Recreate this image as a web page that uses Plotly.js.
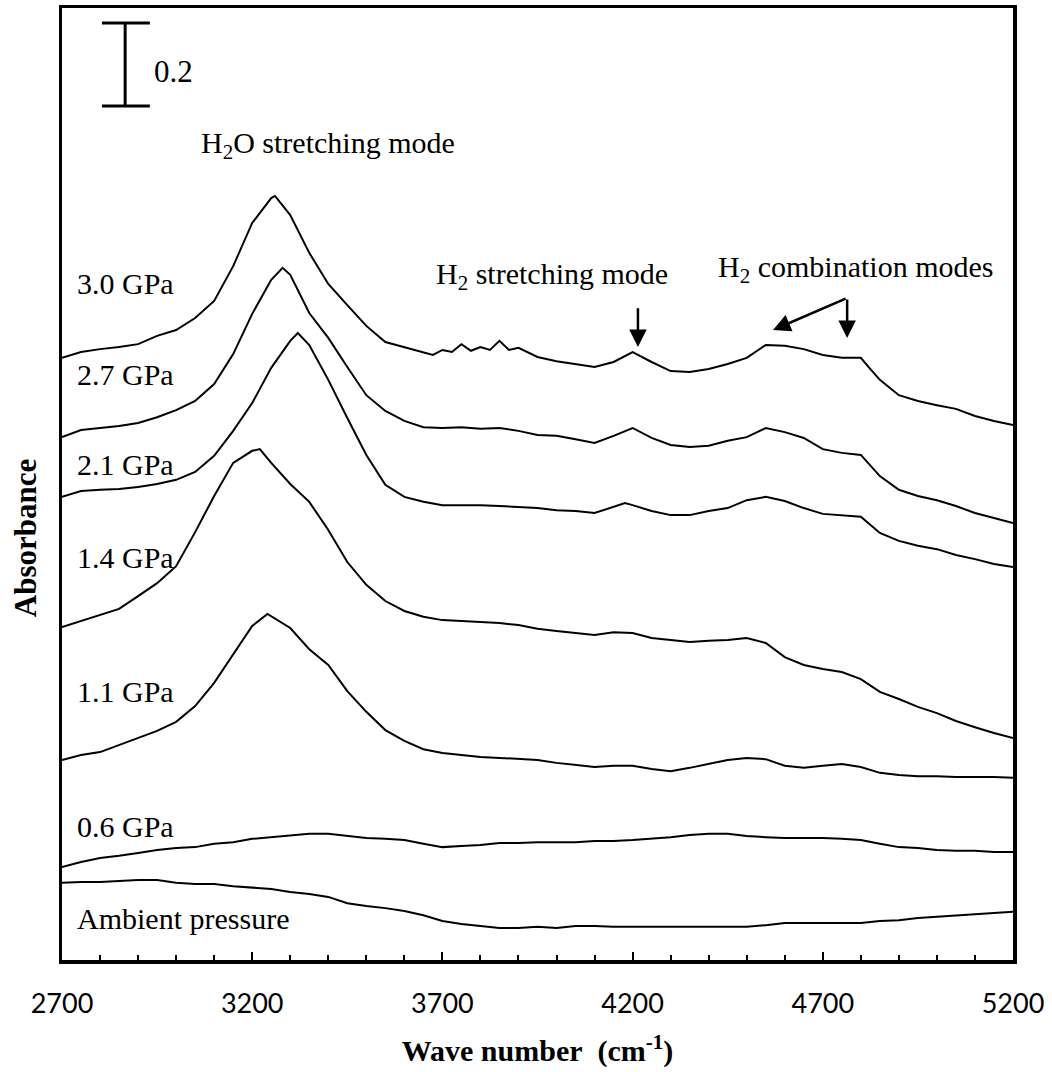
<!DOCTYPE html>
<html>
<head>
<meta charset="utf-8">
<script src="https://cdn.plot.ly/plotly-3.0.1.min.js"></script>
<style>html,body{margin:0;padding:0;background:#fff;}#chart{width:1052px;height:1072px;}</style>
</head>
<body>
<div id="chart"></div>
<script>
// Wave number grids (cm^-1)
const grid50 = [2700,2750,2800,2850,2900,2950,3000,3050,3100,3150,3200,3250,3300,3350,3400,3450,3500,3550,3600,3650,3700,3750,3800,3850,3900,3950,4000,4050,4100,4150,4200,4250,4300,4350,4400,4450,4500,4550,4600,4650,4700,4750,4800,4850,4900,4950,5000,5050,5100,5150,5200];

const x30 = [2700,2750,2800,2850,2900,2950,3000,3050,3100,3150,3200,3250,3260,3300,3350,3400,3450,3500,3550,3600,3650,3675,3700,3725,3750,3775,3800,3825,3850,3875,3900,3925,3950,4000,4050,4100,4150,4200,4250,4300,4350,4400,4450,4500,4550,4600,4650,4700,4750,4800,4820,4850,4900,4950,5000,5050,5100,5150,5200];
const y30 = [1.463,1.477,1.484,1.489,1.496,1.516,1.530,1.559,1.600,1.684,1.788,1.848,1.853,1.807,1.716,1.641,1.590,1.540,1.501,1.489,1.477,1.470,1.482,1.477,1.496,1.480,1.489,1.482,1.504,1.482,1.487,1.475,1.465,1.455,1.448,1.441,1.453,1.477,1.453,1.431,1.429,1.436,1.448,1.463,1.494,1.492,1.484,1.470,1.463,1.463,1.441,1.410,1.373,1.359,1.349,1.340,1.323,1.311,1.301];

const x27 = [2700,2750,2800,2850,2900,2950,3000,3050,3100,3150,3200,3250,3280,3300,3350,3400,3450,3500,3550,3600,3650,3700,3750,3800,3850,3900,3950,4000,4050,4100,4150,4200,4250,4300,4350,4400,4450,4500,4550,4600,4650,4700,4750,4800,4850,4900,4950,5000,5050,5100,5150,5200];
const y27 = [1.272,1.289,1.294,1.299,1.306,1.320,1.337,1.359,1.400,1.472,1.569,1.651,1.680,1.663,1.571,1.511,1.441,1.373,1.335,1.311,1.296,1.294,1.296,1.292,1.294,1.287,1.277,1.275,1.267,1.258,1.275,1.294,1.270,1.253,1.248,1.251,1.263,1.272,1.294,1.284,1.270,1.243,1.234,1.229,1.178,1.145,1.130,1.120,1.106,1.089,1.077,1.065];

const x21 = [2700,2750,2800,2850,2900,2950,3000,3050,3100,3150,3200,3250,3300,3320,3350,3400,3450,3500,3550,3600,3650,3700,3750,3800,3850,3900,3950,4000,4050,4100,4150,4180,4200,4250,4300,4350,4400,4450,4500,4550,4600,4650,4700,4750,4800,4850,4900,4950,5000,5050,5100,5150,5200];
const y21 = [1.128,1.142,1.145,1.147,1.152,1.159,1.169,1.188,1.227,1.287,1.354,1.439,1.504,1.523,1.494,1.410,1.318,1.229,1.157,1.128,1.116,1.108,1.108,1.108,1.106,1.104,1.101,1.096,1.094,1.089,1.104,1.113,1.108,1.094,1.084,1.084,1.094,1.101,1.120,1.128,1.118,1.101,1.087,1.084,1.080,1.041,1.022,1.010,1.002,0.988,0.978,0.966,0.959];

const x14 = [2700,2750,2800,2850,2900,2950,3000,3050,3100,3150,3200,3220,3250,3300,3350,3400,3450,3500,3550,3600,3650,3700,3750,3800,3850,3900,3950,4000,4050,4100,4150,4200,4250,4300,4350,4400,4450,4500,4550,4600,4650,4700,4750,4800,4850,4900,4950,5000,5050,5100,5150,5200];
const y14 = [0.814,0.829,0.843,0.858,0.889,0.920,0.961,1.043,1.130,1.210,1.239,1.243,1.210,1.159,1.116,1.048,0.971,0.916,0.877,0.853,0.839,0.831,0.829,0.827,0.824,0.819,0.810,0.805,0.800,0.795,0.802,0.800,0.788,0.783,0.778,0.781,0.783,0.788,0.776,0.742,0.723,0.713,0.706,0.689,0.658,0.641,0.622,0.607,0.588,0.573,0.559,0.547];

const x11 = [2700,2750,2800,2850,2900,2950,3000,3050,3100,3150,3200,3240,3300,3350,3400,3450,3500,3550,3600,3650,3700,3750,3800,3850,3900,3950,4000,4050,4100,4150,4200,4250,4300,4350,4400,4450,4500,4550,4600,4650,4700,4750,4800,4850,4900,4950,5000,5050,5100,5150,5200];
const y11 = [0.494,0.506,0.513,0.530,0.547,0.564,0.586,0.624,0.680,0.749,0.817,0.846,0.812,0.761,0.723,0.660,0.610,0.566,0.540,0.520,0.511,0.506,0.501,0.499,0.496,0.494,0.487,0.482,0.477,0.480,0.480,0.472,0.467,0.475,0.484,0.494,0.499,0.496,0.480,0.475,0.480,0.484,0.477,0.463,0.458,0.455,0.455,0.453,0.453,0.453,0.451];

const y06 = [0.236,0.248,0.258,0.263,0.270,0.277,0.282,0.284,0.292,0.296,0.304,0.308,0.313,0.316,0.316,0.311,0.306,0.304,0.301,0.292,0.284,0.287,0.289,0.294,0.294,0.296,0.296,0.296,0.299,0.299,0.301,0.304,0.308,0.313,0.316,0.316,0.311,0.308,0.306,0.306,0.306,0.304,0.301,0.292,0.284,0.282,0.277,0.275,0.275,0.272,0.272];

const yAmb = [0.198,0.200,0.200,0.202,0.205,0.205,0.198,0.195,0.195,0.190,0.186,0.183,0.176,0.171,0.164,0.149,0.142,0.137,0.130,0.120,0.106,0.099,0.094,0.089,0.089,0.092,0.089,0.094,0.094,0.092,0.092,0.092,0.092,0.092,0.092,0.092,0.092,0.096,0.101,0.101,0.101,0.101,0.101,0.106,0.108,0.113,0.116,0.120,0.123,0.125,0.128];

// Series labels and their label anchor positions (wave number, absorbance)
const seriesNames = ['3.0 GPa','2.7 GPa','2.1 GPa','1.4 GPa','1.1 GPa','0.6 GPa','Ambient pressure'];
const labelY = [1.641,1.422,1.207,0.983,0.660,0.333,0.113];
const labelX = 2733;

// Scale bar value
const scaleBar = 0.2;

const seriesX = [x30,x27,x21,x14,x11,grid50,grid50];
const seriesY = [y30,y27,y21,y14,y11,y06,yAmb];

const serif = 'Liberation Serif, Times New Roman, serif';

const traces = seriesNames.map((n,i)=>({
  type:'scatter', mode:'lines', name:n,
  x: seriesX[i], y: seriesY[i],
  line:{color:'#000', width:2}, hoverinfo:'x+y+name'
}));

const annotations = seriesNames.map((n,i)=>({
  x: labelX, y: labelY[i], xref:'x', yref:'y', text:n, showarrow:false,
  xanchor:'left', yanchor:'middle', font:{family:serif, size:30, color:'#000'}
}));

annotations.push(
  {x:3399, y:1.976, xref:'x', yref:'y', text:'H<sub>2</sub>O stretching mode', showarrow:false, xanchor:'center', yanchor:'middle', font:{family:serif,size:30,color:'#000'}},
  {x:3988, y:1.660, xref:'x', yref:'y', text:'H<sub>2</sub> stretching mode', showarrow:false, xanchor:'center', yanchor:'middle', font:{family:serif,size:30,color:'#000'}},
  {x:4785, y:1.678, xref:'x', yref:'y', text:'H<sub>2</sub> combination modes', showarrow:false, xanchor:'center', yanchor:'middle', font:{family:serif,size:30,color:'#000'}},
  // arrows
  {x:4214, y:1.489, xref:'x', yref:'y', ax:4214, ay:1.586, axref:'x', ayref:'y', text:'', showarrow:true, arrowhead:2, arrowsize:1.4, arrowwidth:2.5, arrowcolor:'#000'},
  {x:4569, y:1.530, xref:'x', yref:'y', ax:4764, ay:1.607, axref:'x', ayref:'y', text:'', showarrow:true, arrowhead:2, arrowsize:1.4, arrowwidth:2.5, arrowcolor:'#000'},
  {x:4764, y:1.511, xref:'x', yref:'y', ax:4764, ay:1.607, axref:'x', ayref:'y', text:'', showarrow:true, arrowhead:2, arrowsize:1.4, arrowwidth:2.5, arrowcolor:'#000'},
  // scale bar label
  {x:2937, y:2.152, xref:'x', yref:'y', text:'0.2', showarrow:false, xanchor:'left', yanchor:'middle', font:{family:serif,size:31,color:'#000'}},
  // y-axis title
  {x:-0.039, y:0.443, xref:'paper', yref:'paper', text:'<b>Absorbance</b>', textangle:-90, showarrow:false, xanchor:'center', yanchor:'middle', font:{family:serif,size:31,color:'#000'}}
);

const sbTop = 2.270, sbX = 2866, sbCapL = 2805, sbCapR = 2931;
const shapes = [
  {type:'line', xref:'x', yref:'y', x0:sbX, x1:sbX, y0:sbTop, y1:sbTop-scaleBar, line:{color:'#000', width:3}},
  {type:'line', xref:'x', yref:'y', x0:sbCapL, x1:sbCapR, y0:sbTop, y1:sbTop, line:{color:'#000', width:3}},
  {type:'line', xref:'x', yref:'y', x0:sbCapL, x1:sbCapR, y0:sbTop-scaleBar, y1:sbTop-scaleBar, line:{color:'#000', width:3}}
];

const layout = {
  width:1052, height:1072,
  margin:{l:62, r:39, t:8, b:112},
  paper_bgcolor:'#fff', plot_bgcolor:'#fff',
  showlegend:false,
  xaxis:{
    range:[2700,5200], tick0:2700, dtick:500,
    ticks:'inside', ticklen:8, tickwidth:2, tickcolor:'#000',
    minor:{dtick:100, ticks:'inside', ticklen:5, tickwidth:2, tickcolor:'#000', showgrid:false},
    showline:true, linewidth:3.5, linecolor:'#000', mirror:true,
    showgrid:false, zeroline:false,
    tickfont:{family:'Lato, Open Sans, sans-serif', size:27, color:'#000'},
    ticklabelstandoff:17,
    title:{text:'<b>Wave number&nbsp; (cm<sup>-1</sup>)</b>', font:{family:serif, size:30, color:'#000'}, standoff:23},
    automargin:false
  },
  yaxis:{
    range:[0.012,2.306],
    showline:true, linewidth:3.5, linecolor:'#000', mirror:true,
    ticks:'', showticklabels:false, showgrid:false, zeroline:false,
    automargin:false
  },
  annotations:annotations,
  shapes:shapes
};

Plotly.newPlot('chart', traces, layout, {displayModeBar:false, staticPlot:true});
</script>
</body>
</html>
